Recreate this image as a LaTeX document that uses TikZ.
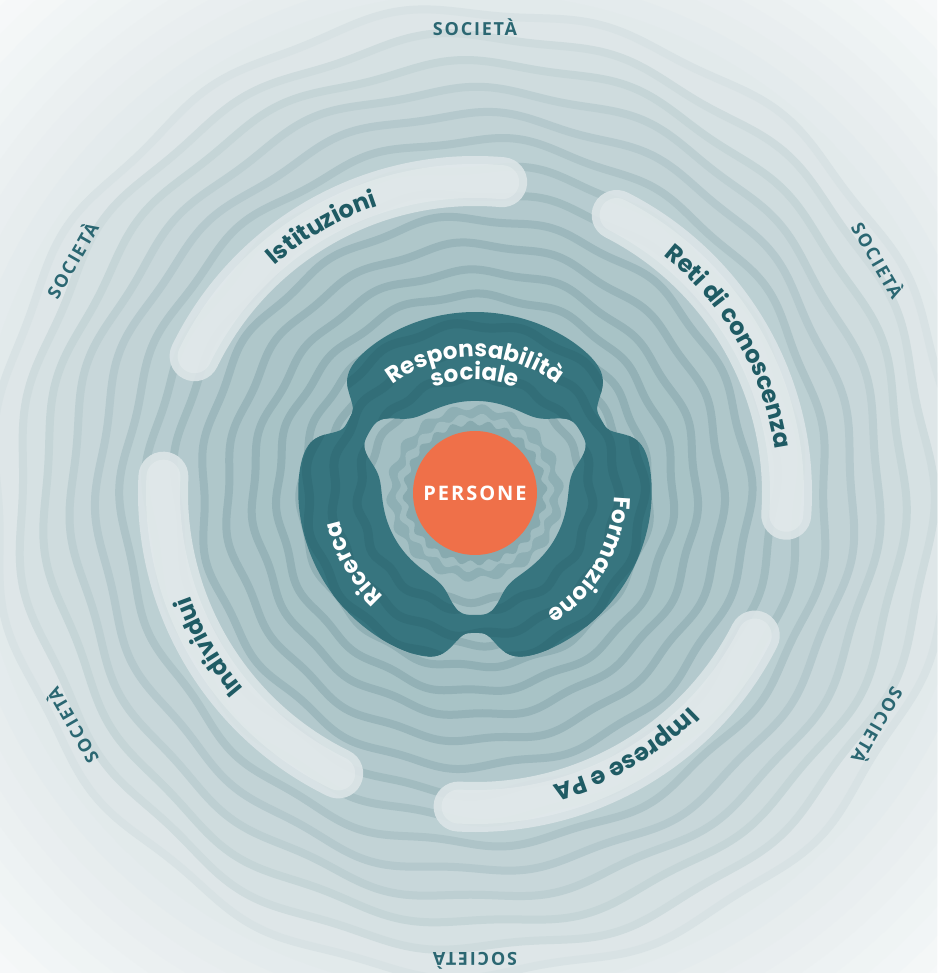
\documentclass[tikz,border=0pt]{standalone}
\usepackage{fontspec}
\usetikzlibrary{decorations.text}
\newfontfamily\geofont{Poppins}
\newfontfamily\capsfont[LetterSpace=10]{Open Sans}

\definecolor{bgin}{HTML}{E0E8EA}
\definecolor{bgout}{HTML}{F8FAFA}
\definecolor{ringin}{HTML}{A3BFC3}
\definecolor{ringout}{HTML}{DEE6E8}
\definecolor{linein}{HTML}{8FAEB3}
\definecolor{lineout}{HTML}{D8E2E4}
\definecolor{trefoilcol}{HTML}{37757F}
\definecolor{trefoilline}{HTML}{326E78}
\definecolor{corecol}{HTML}{8EAFB4}
\definecolor{corelight}{HTML}{A0BDC1}
\definecolor{coredark}{HTML}{88AAAF}
\definecolor{ribboncol}{HTML}{DCE5E7}
\definecolor{ribbontext}{HTML}{1F5B64}
\definecolor{societycol}{HTML}{2B6772}
\definecolor{personecol}{HTML}{EF7049}

\newcommand\ribbonfont{\geofont\bfseries\fontsize{24}{24}\selectfont}
\newcommand\lobefont{\geofont\bfseries\fontsize{23}{23}\selectfont}

% outer and inner edge of the three lobes
\def\trefoil{plot[domain=0:359, samples=360] (\x:{177-33*notch(\x,9)+4*sin(\x)}) -- cycle
  plot[domain=0:359, samples=360] (\x:{92+30*notch(\x,14)}) -- cycle}

\begin{document}
\begin{tikzpicture}[x=1pt, y=1pt,
    declare function={gapd(\a)=mod(\a+390,120)-60;
      notch(\a,\w)=1/(1+(gapd(\a)*gapd(\a)/(\w*\w))^2);},
    society/.style={font=\capsfont\bfseries\fontsize{18}{18}\selectfont, text=societycol, inner sep=0pt},
    ribbon/.style={line width=50pt, line cap=round, draw=ribboncol, draw opacity=0.9},
    ribbonglow/.style={line width=34pt, line cap=round, draw=white, draw opacity=0.2},
    ribbonlabel/.style={decorate, decoration={text along path, text align=center,
      text color=ribbontext, text={|\ribbonfont|#1}}},
    lobelabel/.style={decorate, decoration={text along path, text align=center,
      text color=white, text={|\lobefont|#1}}}]
  \useasboundingbox (-475,-480) rectangle (462,493);

  \begin{scope}
    \clip (-475,-480) rectangle (462,493);
    % pale glow fading to the corners
    \foreach \r in {700,680,...,480} {
      \pgfmathsetmacro\mix{(\r-480)/2.2}
      \fill[bgout!\mix!bgin] (0,0) circle (\r);
    }
    % wavy rings, lighter towards the outside
    \foreach \R [count=\i] in {482,456,430,404,378,352,326,300,274,248,222,198,174,152,130,108} {
      \pgfmathsetmacro\mix{100*((\R-108)/374)^2}
      \pgfmathsetmacro\phs{\i*47}
      \pgfmathsetmacro\wav{1+\R/150}
      \filldraw[fill=ringout!\mix!ringin, draw=lineout!\mix!linein, line width=8pt]
        plot[domain=0:358, samples=180, smooth cycle] (\x:{\R+\wav*sin(15*\x+\phs)+0.4*\wav*sin(7*\x+2*\phs)});
    }
  \end{scope}

  % three lobes
  \fill[trefoilcol, even odd rule] \trefoil;
  \begin{scope}[even odd rule]
    \clip \trefoil;
    \foreach \R [count=\i] in {168,142,116}
      \draw[trefoilline, line width=9pt]
        plot[domain=0:358, samples=180, smooth cycle] (\x:{\R+2.5*sin(15*\x+\i*61)});
  \end{scope}

  % core
  \fill[corecol] plot[domain=0:358, samples=180, smooth cycle] (\x:{86+3*sin(18*\x)});
  \fill[corelight] plot[domain=0:358, samples=180, smooth cycle] (\x:{77+2.5*sin(22*\x+30)});
  \fill[coredark] plot[domain=0:358, samples=180, smooth cycle] (\x:{70+2.5*sin(24*\x)});
  \node[circle, fill=personecol, minimum size=124pt, inner sep=0pt, text=white,
    font=\capsfont\bfseries\fontsize{20}{20}\selectfont] (persone) at (0,0) {PERSONE};

  % ribbons
  \draw[ribbon] (154:312) arc[start angle=154, end angle=85, radius=312];
  \draw[ribbonglow] (154:312) arc[start angle=154, end angle=85, radius=312];
  \draw[ribbon] (63:312) arc[start angle=63, end angle=-4, radius=312];
  \draw[ribbonglow] (63:312) arc[start angle=63, end angle=-4, radius=312];
  \draw[ribbon] (-27:314) arc[start angle=-27, end angle=-93, radius=314];
  \draw[ribbonglow] (-27:314) arc[start angle=-27, end angle=-93, radius=314];
  \draw[ribbon] (177:312) arc[start angle=177, end angle=244, radius=312];
  \draw[ribbonglow] (177:312) arc[start angle=177, end angle=244, radius=312];

  \path[ribbonlabel=Istituzioni] (150:303) arc[start angle=150, end angle=90, radius=303];
  \path[ribbonlabel=Reti di conoscenza] (62:303) arc[start angle=62, end angle=-2, radius=303];
  \path[ribbonlabel=Imprese e PA] (-30:303) arc[start angle=-30, end angle=-90, radius=303];
  \path[ribbonlabel=Individui] (240:303) arc[start angle=240, end angle=180, radius=303];

  \path[lobelabel=Responsabilità] (150:136) arc[start angle=150, end angle=30, radius=136];
  \path[lobelabel=sociale] (140:113) arc[start angle=140, end angle=40, radius=113];
  \path[lobelabel=Formazione] (20:139) arc[start angle=20, end angle=-80, radius=139];
  \path[lobelabel=Ricerca] (250:138) arc[start angle=250, end angle=170, radius=138];

  \node[society] (socN) at (90:466) {SOCIETÀ};
  \node[society, rotate=-60] (socNE) at (30:466) {SOCIETÀ};
  \node[society, rotate=-120] (socSE) at (-30:466) {SOCIETÀ};
  \node[society, rotate=180] (socS) at (270:468) {SOCIETÀ};
  \node[society, rotate=120] (socSW) at (210:466) {SOCIETÀ};
  \node[society, rotate=60] (socNW) at (150:466) {SOCIETÀ};
\end{tikzpicture}
\end{document}
